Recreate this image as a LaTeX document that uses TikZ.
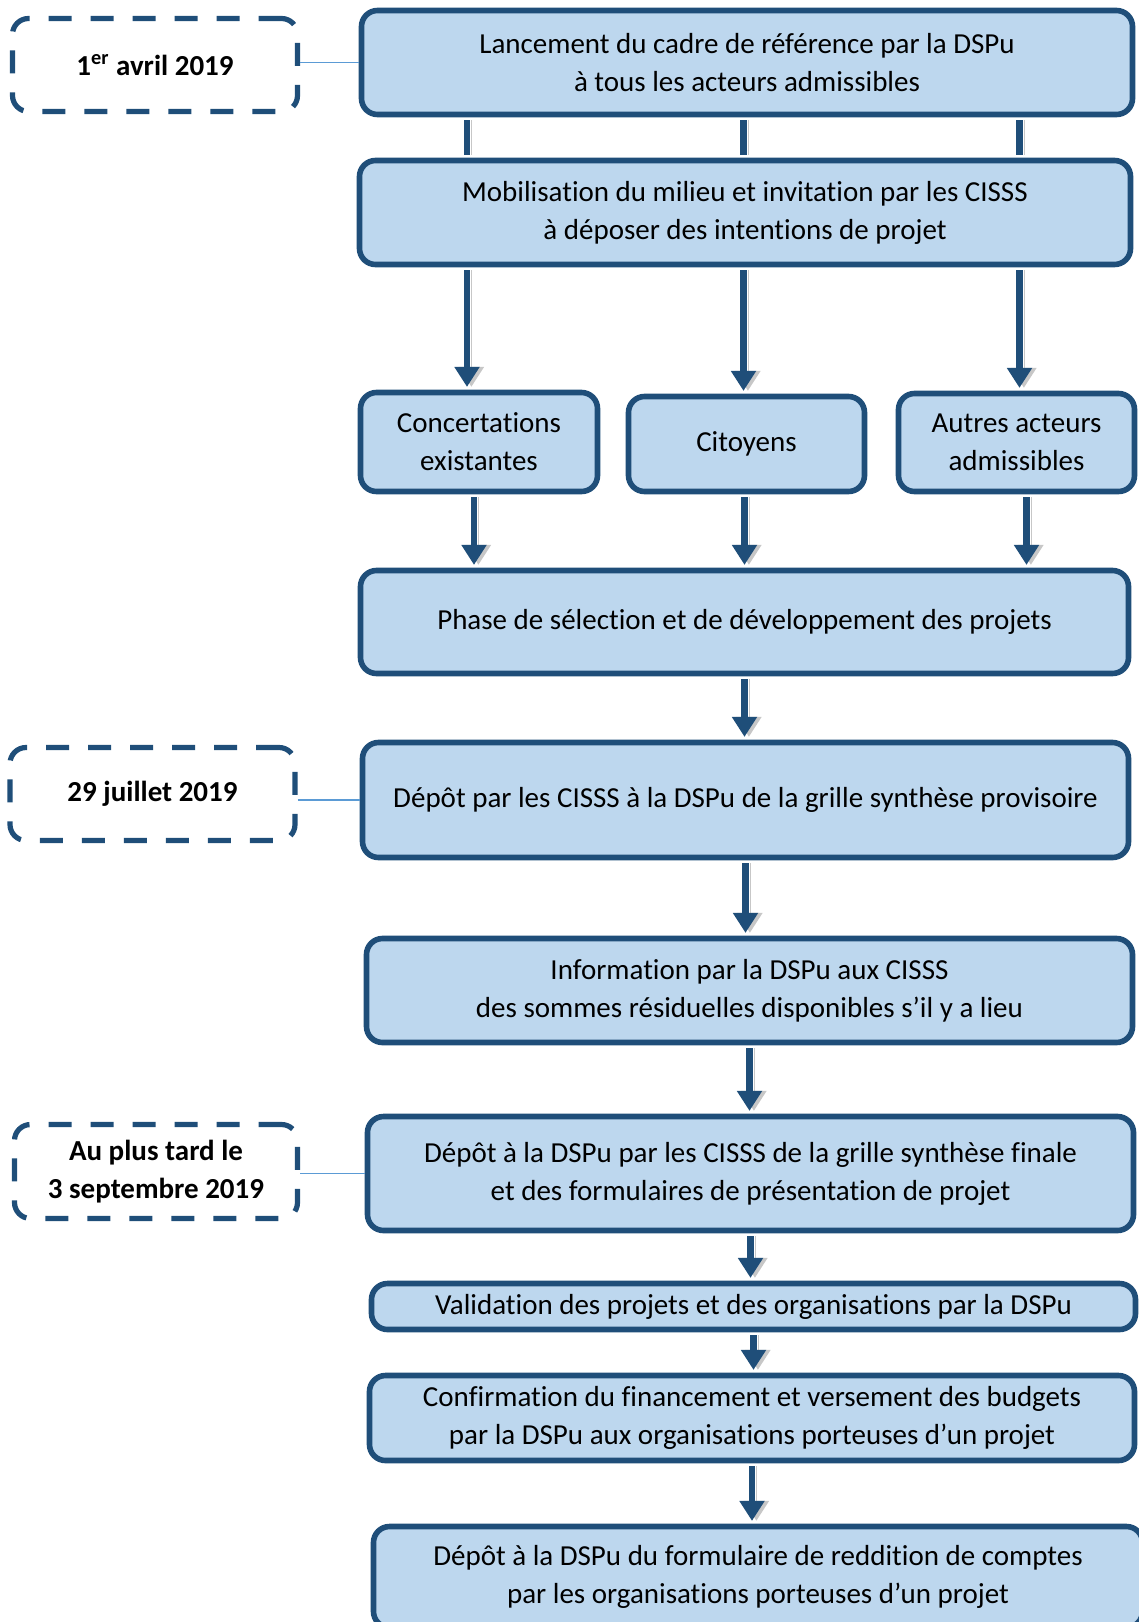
\documentclass[tikz,border=0pt]{standalone}
\usepackage{fontspec}
\setmainfont[Ligatures=NoCommon,Contextuals=NoAlternate,RawFeature={-liga;-clig;-calt}]{Carlito}
\usetikzlibrary{arrows.meta,calc}
\definecolor{cblue}{RGB}{31,78,121}
\definecolor{cfill}{RGB}{189,215,238}
\definecolor{clink}{RGB}{91,155,213}

\begin{document}
\begin{tikzpicture}[x=0.5pt,y=-0.5pt,>={Triangle[width=12pt,length=10pt]},
  font=\fontsize{14.5}{19}\selectfont,
  main node/.style={rectangle,rounded corners=8pt,draw=cblue,fill=cfill,line width=2.8pt,align=center,inner sep=2pt},
  date node/.style={rectangle,rounded corners=8pt,draw=cblue,line width=2.6pt,dash pattern=on 11.5pt off 9.5pt,
    align=center,inner sep=2pt,font=\fontsize{14.5}{19}\selectfont\bfseries},
  flow/.style={draw=cblue,line width=3.3pt,shorten <=1.4pt,shorten >=1.4pt,
    preaction={draw=black!22,transform canvas={xshift=2.2pt}}},
  link/.style={draw=clink,line width=0.8pt}]
  \useasboundingbox (0,0) rectangle (1139,1622);

  \node[main node,minimum width=385.5pt,minimum height=52pt] (1) at (747,62.5)
    {Lancement du cadre de référence par la DSPu\\à tous les acteurs admissibles};
  \node[main node,minimum width=385.5pt,minimum height=52pt] (2) at (745,212.5)
    {Mobilisation du milieu et invitation par les CISSS\\à déposer des intentions de projet};
  \node[main node,minimum width=118.5pt,minimum height=49.5pt] (3) at (479,442) {Concertations\\existantes};
  \node[main node,minimum width=118pt,minimum height=47.5pt] (4) at (746.5,444) {Citoyens};
  \node[main node,minimum width=118pt,minimum height=49pt] (5) at (1016.5,442.5) {Autres acteurs\\admissibles};
  \node[main node,minimum width=384pt,minimum height=51.5pt] (6) at (744.5,622)
    {Phase de sélection et de développement des projets};
  \node[main node,minimum width=383pt,minimum height=57.5pt] (7) at (745.5,800)
    {Dépôt par les CISSS à la DSPu de la grille synthèse provisoire};
  \node[main node,minimum width=383pt,minimum height=52pt] (8) at (749.5,990.5)
    {Information par la DSPu aux CISSS\\des sommes résiduelles disponibles s’il y a lieu};
  \node[main node,minimum width=383pt,minimum height=57pt] (9) at (750.5,1173.5)
    {Dépôt à la DSPu par les CISSS de la grille synthèse finale\\et des formulaires de présentation de projet};
  \node[main node,minimum width=382pt,minimum height=23pt] (10) at (753.5,1306.5)
    {Validation des projets et des organisations par la DSPu};
  \node[main node,minimum width=382.5pt,minimum height=42.5pt] (11) at (752,1418)
    {Confirmation du financement et versement des budgets\\par la DSPu aux organisations porteuses d’un projet};
  \node[main node,minimum width=384.5pt,minimum height=50.5pt] (12) at (758,1577)
    {Dépôt à la DSPu du formulaire de reddition de comptes\\par les organisations porteuses d’un projet};

  % dates
  \node[date node,minimum width=142.5pt,minimum height=46.5pt] (d1) at (155,65) {1\textsuperscript{er} avril 2019};
  \node[date node,minimum width=142.5pt,minimum height=46.5pt] (d2) at (152.5,794) {29 juillet 2019};
  \node[date node,minimum width=141.5pt,minimum height=47pt] (d3) at (156,1171.5) {Au plus tard le\\3 septembre 2019};

  \draw[link] (1.west -| d1.east) -- (1.west);
  \draw[link] (7.west -| d2.east) -- (7.west);
  \draw[link] (9.west -| d3.east) -- (9.west);

  \foreach \n/\d in {3/-12,4/-3,5/3}{
    \draw[flow] ($(1.south -| \n)+(\d,0)$) -- ($(2.north -| \n)+(\d,0)$);
    \draw[flow,->] ($(2.south -| \n)+(\d,0)$) -- ($(\n.north)+(\d,0)$);
  }
  \foreach \n/\d in {3/-5,4/-2,5/10}
    \draw[flow,->] ($(\n.south)+(\d,0)$) -- ($(6.north -| \n)+(\d,0)$);

  \foreach \a/\b in {6/7,7/8,8/9,9/10,10/11,11/12}
    \draw[flow,->] (\a.south) -- (\a.south |- \b.north);

\end{tikzpicture}
\end{document}
